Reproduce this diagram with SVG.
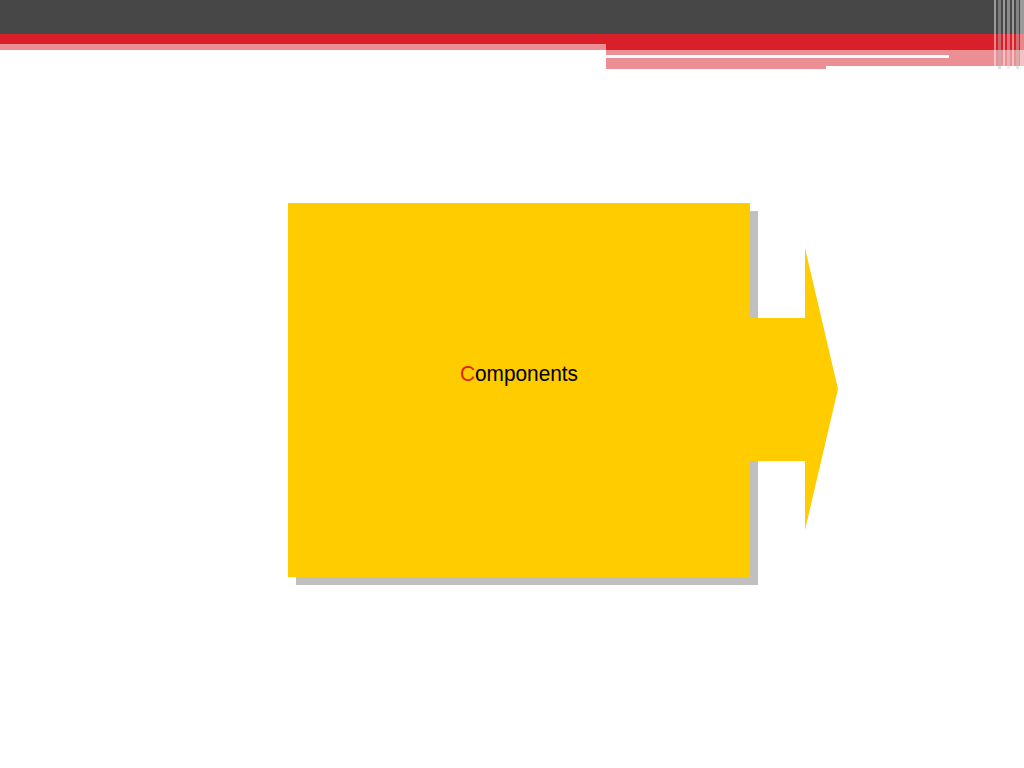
<svg xmlns="http://www.w3.org/2000/svg" width="1024" height="768" viewBox="0 0 1024 768">
<style>
.lbl{font-family:"Liberation Sans",Arial,sans-serif;font-size:22px;fill:#000}
.red{fill:#e0231c}
.st{opacity:0.45}
</style>
<rect width="1024" height="768" fill="#fff"/>
<g id="header">
<rect x="0" y="0" width="1024" height="34" fill="#474747"/>
<rect x="0" y="34" width="1024" height="10" fill="#d9202a"/>
<rect x="0" y="44" width="606" height="6" fill="#ec8f95"/>
<rect x="606" y="44" width="418" height="6" fill="#d9202a"/>
<rect x="606" y="50" width="418" height="5" fill="#ec8f95"/>
<rect x="606" y="55" width="343" height="3" fill="#fff"/>
<rect x="949" y="55" width="75" height="3" fill="#ec8f95"/>
<rect x="606" y="58" width="220" height="11" fill="#ec8f95"/>
<rect x="826" y="58" width="198" height="8" fill="#ec8f95"/>
<g class="st">
<rect x="994" y="0" width="2" height="69" fill="#fff"/>
<rect x="998" y="0" width="3" height="69" fill="#bbb"/>
<rect x="1003" y="0" width="2" height="69" fill="#fff"/>
<rect x="1007" y="0" width="3" height="69" fill="#ddd"/>
<rect x="1012" y="0" width="2" height="69" fill="#fff"/>
<rect x="1016" y="0" width="3" height="69" fill="#ccc"/>
<rect x="1020" y="0" width="4" height="69" fill="#fff"/>
</g>
</g>
<g id="components">
<rect x="296" y="211" width="462" height="374" fill="#c0c0c0"/>
<polygon points="750,318 805,318 805,248 838,389 805,530 805,461 750,461" fill="#ffcc00"/>
<rect x="288" y="203" width="462" height="374" fill="#ffcc00"/>
<text class="lbl" x="519" y="381" text-anchor="middle" textLength="118" lengthAdjust="spacingAndGlyphs"><tspan class="red">C</tspan>omponents</text>
</g>
</svg>
